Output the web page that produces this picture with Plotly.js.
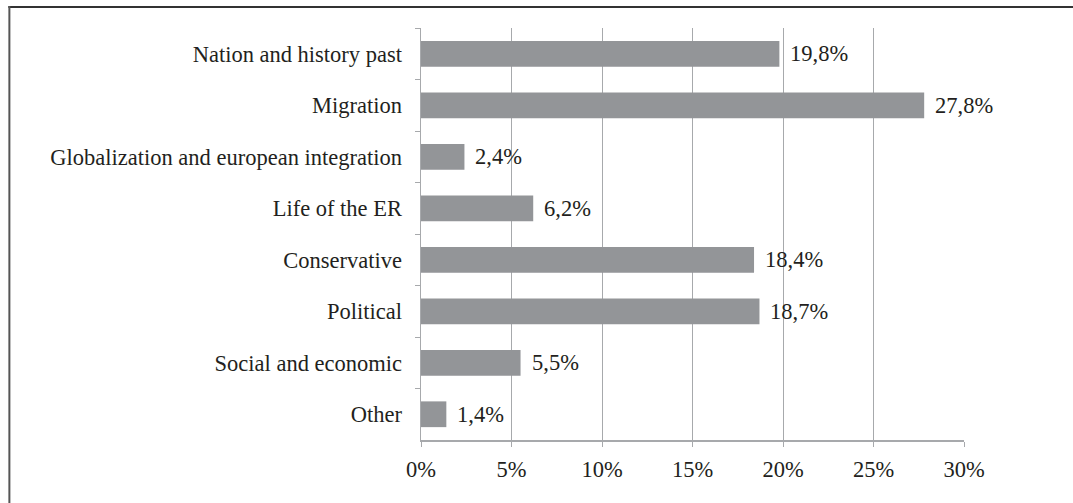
<!DOCTYPE html>
<html>
<head>
<meta charset="utf-8">
<script src="https://cdn.plot.ly/plotly-3.0.1.min.js"></script>
<style>
html,body{margin:0;padding:0;background:#fff;}
#chart{width:1073px;height:503px;}
</style>
</head>
<body>
<div id="chart"></div>
<script>
var categories = ["Nation and history past", "Migration", "Globalization and european integration", "Life of the ER", "Conservative", "Political", "Social and economic", "Other"];
var values = [19.8, 27.8, 2.4, 6.2, 18.4, 18.7, 5.5, 1.4];
var labels = ["19,8%", "27,8%", "2,4%", "6,2%", "18,4%", "18,7%", "5,5%", "1,4%"];
var xTickVals = [0, 5, 10, 15, 20, 25, 30];
var xTickText = ["0%", "5%", "10%", "15%", "20%", "25%", "30%"];

var W = 1073, H = 503;
var mL = 421, mR = W - 964.5, mT = 27.5, mB = H - 440;
var pw = W - mL - mR, ph = H - mT - mB;
function px2x(p){ return (p - mL) / pw; }
function py2y(p){ return (H - mB - p) / ph; }

var font = {family: "Liberation Serif", size: 22.5, color: "#231f20"};

var trace = {
  type: "bar",
  orientation: "h",
  x: values,
  y: categories,
  marker: {color: "#939598", line: {width: 0}},
  hoverinfo: "none"
};

var annotations = categories.map(function(c, i){
  return {x: values[i], y: c, xref: "x", yref: "y", text: labels[i], showarrow: false,
          xanchor: "left", yanchor: "middle", xshift: 9, font: font};
});

var layout = {
  width: W, height: H,
  margin: {l: mL, r: mR, t: mT, b: mB, pad: 0},
  paper_bgcolor: "#fff", plot_bgcolor: "#fff",
  font: font,
  showlegend: false,
  bargap: 0.5,
  xaxis: {
    range: [0, 30], tickvals: xTickVals, ticktext: xTickText,
    showgrid: true, gridcolor: "#a7a9ac", gridwidth: 1,
    zeroline: false, showline: true, linecolor: "#a7a9ac", linewidth: 1.5,
    ticks: "outside", ticklen: 5, tickcolor: "#a7a9ac", tickwidth: 1,
    tickfont: font, ticklabelstandoff: 3, fixedrange: true
  },
  yaxis: {
    type: "category", categoryorder: "array", categoryarray: categories,
    autorange: "reversed",
    showgrid: false, zeroline: false, showline: true, linecolor: "#a7a9ac", linewidth: 1.5,
    ticks: "outside", ticklen: 5, tickcolor: "#a7a9ac", tickwidth: 1, tickson: "boundaries",
    tickfont: font, ticklabelstandoff: 13, fixedrange: true
  },
  annotations: annotations,
  shapes: [
    {type: "line", xref: "paper", yref: "paper", x0: px2x(8), x1: px2x(1080), y0: py2y(6.5), y1: py2y(6.5),
     line: {color: "#333333", width: 2}},
    {type: "line", xref: "paper", yref: "paper", x0: px2x(9), x1: px2x(9), y0: py2y(5.5), y1: py2y(510),
     line: {color: "#555555", width: 2}}
  ]
};

Plotly.newPlot("chart", [trace], layout, {staticPlot: true, displayModeBar: false});
</script>
</body>
</html>
